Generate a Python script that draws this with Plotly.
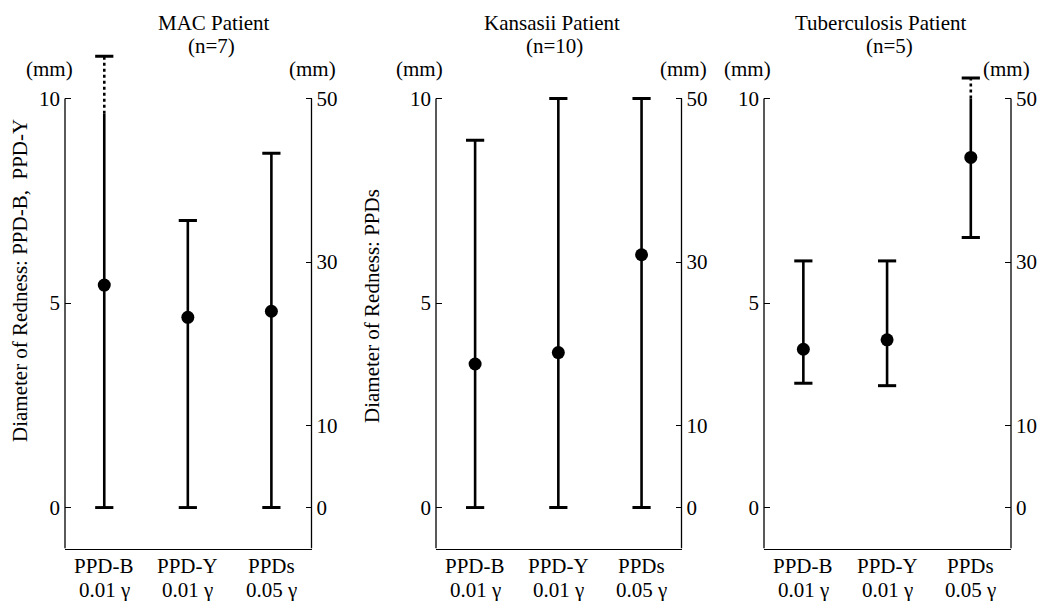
import plotly.graph_objects as go

W, H = 1040, 601

cat_names = ["PPD-B", "PPD-Y", "PPDs"]
cat_doses = ["0.01 γ", "0.01 γ", "0.05 γ"]
panel_titles = ["MAC Patient", "Kansasii Patient", "Tuberculosis Patient"]
n_labels = ["(n=7)", "(n=10)", "(n=5)"]

# first two categories on left axis (PPD-B, PPD-Y, 0-10 mm), third on right axis (PPDs, 0-50 mm)
mac_mean = [5.44, 4.65, 24.0]
mac_low = [0.0, 0.0, 0.0]
mac_high = [11.03, 7.02, 43.3]
mac_solid_top = [9.63, 7.02, 43.3]

kan_mean = [3.51, 3.79, 30.9]
kan_low = [0.0, 0.0, 0.0]
kan_high = [8.98, 10.0, 50.0]
kan_solid_top = [8.98, 10.0, 50.0]

tb_mean = [3.87, 4.10, 42.8]
tb_low = [3.04, 2.98, 33.0]
tb_high = [6.03, 6.03, 52.5]
tb_solid_top = [6.03, 6.03, 50.0]

left_ticks = [0, 5, 10]
right_ticks = [0, 10, 30, 50]

panels = [
    (mac_mean, mac_low, mac_high, mac_solid_top),
    (kan_mean, kan_low, kan_high, kan_solid_top),
    (tb_mean, tb_low, tb_high, tb_solid_top),
]

FONT = "Liberation Serif"
FS = 21
x_domains = [[65 / W, 311.5 / W], [436 / W, 681.5 / W], [764 / W, 1011 / W]]
y_dom = [(H - 548.5) / H, (H - 40) / H]
yl_range = [-1, 11.43]
yr_range = [v * 5 for v in yl_range]

fig = go.Figure()
layout = dict(
    width=W, height=H, margin=dict(l=0, r=0, t=0, b=0, autoexpand=False),
    paper_bgcolor="white", plot_bgcolor="white", showlegend=False,
    font=dict(family=FONT, size=FS, color="black"),
)
shapes = []
annotations = []

xs = [0, 1, 2]
for i, (mean, low, high, solid_top) in enumerate(panels):
    xa = "x" if i == 0 else f"x{i+1}"
    yl_n = 2 * i + 1
    yr_n = 2 * i + 2
    yl = "y" if yl_n == 1 else f"y{yl_n}"
    yr = f"y{yr_n}"
    for j in xs:
        ya = yl if j < 2 else yr
        # solid whisker
        fig.add_trace(go.Scatter(x=[j, j], y=[low[j], solid_top[j]], mode="lines",
                                 line=dict(color="black", width=2.6), xaxis=xa, yaxis=ya,
                                 hoverinfo="skip"))
        # dotted portion
        if high[j] > solid_top[j]:
            fig.add_trace(go.Scatter(x=[j, j], y=[solid_top[j], high[j]], mode="lines",
                                     line=dict(color="black", width=2.6, dash="dot"),
                                     xaxis=xa, yaxis=ya, hoverinfo="skip"))
        # caps
        fig.add_trace(go.Scatter(x=[j, j], y=[low[j], high[j]], mode="markers",
                                 marker=dict(symbol="line-ew", size=13,
                                             line=dict(color="black", width=3)),
                                 xaxis=xa, yaxis=ya, hoverinfo="skip"))
        # mean
        fig.add_trace(go.Scatter(x=[j], y=[mean[j]], mode="markers",
                                 marker=dict(symbol="circle", size=13, color="black"),
                                 xaxis=xa, yaxis=ya))
        # category labels (two lines)
        annotations.append(dict(text=cat_names[j], x=j, xref=xa, y=1 - 566 / H, yref="paper",
                                showarrow=False, xanchor="center", yanchor="middle",
                                font=dict(size=FS)))
        annotations.append(dict(text=cat_doses[j], x=j, xref=xa, y=1 - 590 / H, yref="paper",
                                showarrow=False, xanchor="center", yanchor="middle",
                                font=dict(size=FS)))

    xkey = "xaxis" if i == 0 else f"xaxis{i+1}"
    ylkey = "yaxis" if yl_n == 1 else f"yaxis{yl_n}"
    yrkey = f"yaxis{yr_n}"
    layout[xkey] = dict(domain=x_domains[i], anchor=yl, range=[-0.47, 2.48],
                        tickvals=xs, showticklabels=False, ticks="", showgrid=False,
                        zeroline=False, showline=True, linecolor="black", linewidth=1.3,
                        automargin=False)
    layout[ylkey] = dict(domain=y_dom, anchor=xa, range=yl_range, tickvals=left_ticks,
                         ticks="inside", ticklen=6, tickwidth=1.2, tickcolor="black",
                         showgrid=False, zeroline=False, showline=False, automargin=False,
                         ticklabelstandoff=4, tickfont=dict(size=FS, family=FONT))
    layout[yrkey] = dict(domain=y_dom, anchor=xa, overlaying=yl, side="right",
                         range=yr_range, tickvals=right_ticks,
                         ticks="inside", ticklen=6, tickwidth=1.2, tickcolor="black",
                         showgrid=False, zeroline=False, showline=False, automargin=False,
                         ticklabelstandoff=4, tickfont=dict(size=FS, family=FONT))
    # spines
    shapes.append(dict(type="line", xref=f"{xa} domain", yref=yl, x0=0, x1=0,
                       y0=yl_range[0], y1=left_ticks[-1], line=dict(color="black", width=1.3)))
    shapes.append(dict(type="line", xref=f"{xa} domain", yref=yr, x0=1, x1=1,
                       y0=yr_range[0], y1=right_ticks[-1], line=dict(color="black", width=1.3)))

# panel titles
title_pos = [(214, 211), (551.5, 554), (880, 889)]
for i in range(3):
    annotations.append(dict(text=panel_titles[i], x=title_pos[i][0] / W, y=1 - 23 / H,
                            xref="paper", yref="paper", showarrow=False,
                            xanchor="center", yanchor="middle", font=dict(size=FS)))
    annotations.append(dict(text=n_labels[i], x=title_pos[i][1] / W, y=1 - 46 / H,
                            xref="paper", yref="paper", showarrow=False,
                            xanchor="center", yanchor="middle", font=dict(size=FS)))

for xm in [49, 312, 419, 683, 747, 1006]:
    annotations.append(dict(text="(mm)", x=xm / W, y=1 - 69 / H, xref="paper", yref="paper",
                            showarrow=False, xanchor="center", yanchor="middle",
                            font=dict(size=FS)))

annotations.append(dict(text="Diameter of Redness: PPD-B,\u00a0 PPD-Y", x=20 / W, y=1 - 281 / H,
                        xref="paper", yref="paper", showarrow=False, textangle=-90,
                        xanchor="center", yanchor="middle", font=dict(size=FS)))
annotations.append(dict(text="Diameter of Redness: PPDs", x=372 / W, y=1 - 306 / H,
                        xref="paper", yref="paper", showarrow=False, textangle=-90,
                        xanchor="center", yanchor="middle", font=dict(size=FS)))

layout["shapes"] = shapes
layout["annotations"] = annotations
fig.update_layout(**layout)
fig.write_html("out.html", config={"displayModeBar": False},
               post_script="document.body.style.margin='0';document.body.style.overflow='hidden';")
